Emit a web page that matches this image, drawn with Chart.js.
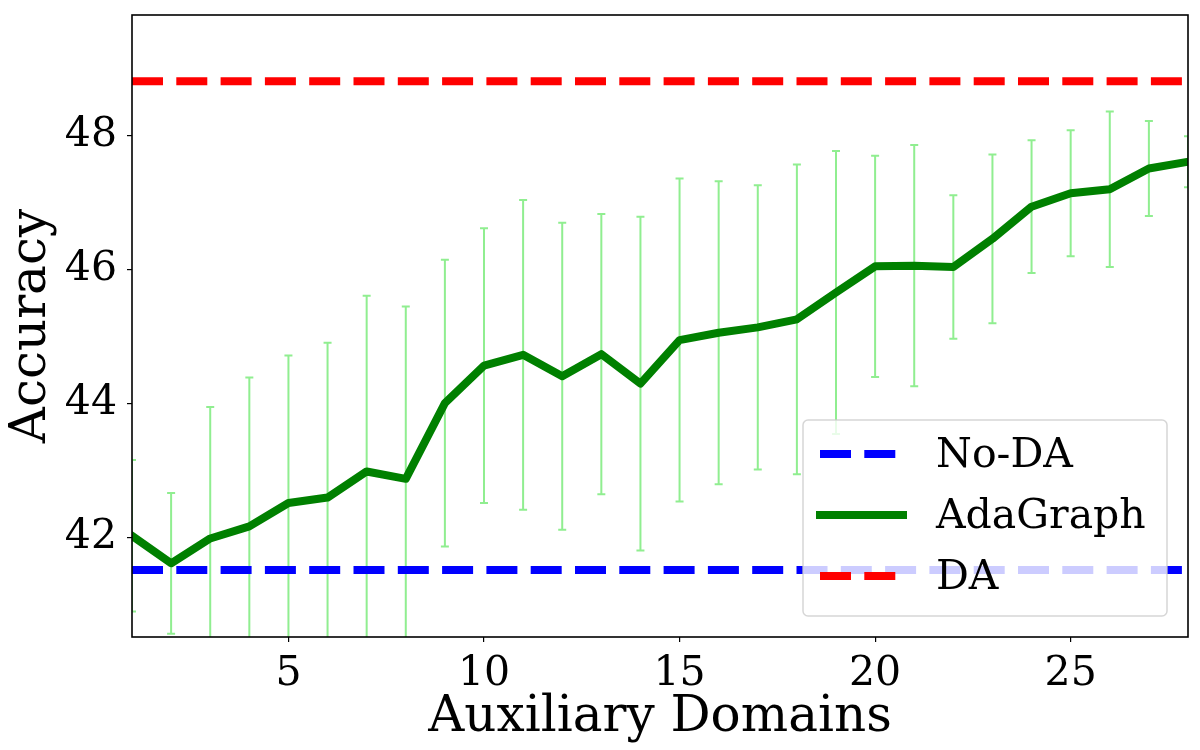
<!DOCTYPE html>
<html>
<head>
<meta charset="utf-8">
<script src="https://cdn.jsdelivr.net/npm/chart.js@4.4.1/dist/chart.umd.min.js"></script>
<style>
  html, body { margin: 0; padding: 0; background: #fff; }
  #wrap { width: 1200px; height: 750px; }
</style>
</head>
<body>
<div id="wrap"><canvas id="chart"></canvas></div>
<script>
// data
const domains = [1, 2, 3, 4, 5, 6, 7, 8, 9, 10, 11, 12, 13, 14, 15, 16, 17, 18, 19, 20, 21, 22, 23, 24, 25, 26, 27, 28];
const adaGraph = [42.03, 41.62, 41.99, 42.17, 42.52, 42.60, 42.99, 42.88, 44.01, 44.57, 44.73, 44.41, 44.74, 44.30,
                  44.95, 45.06, 45.14, 45.26, 45.66, 46.05, 46.06, 46.04, 46.46, 46.94, 47.14, 47.20, 47.51, 47.61];
const adaGraphStd = [1.13, 1.05, 1.96, 2.22, 2.20, 2.31, 2.62, 2.57, 2.14, 2.05, 2.31, 2.29, 2.09, 2.49,
                     2.41, 2.26, 2.12, 2.31, 2.11, 1.65, 1.80, 1.07, 1.26, 0.99, 0.94, 1.16, 0.71, 0.38];
const noDA = 41.52;
const DA = 48.81;
const xTicks = [5, 10, 15, 20, 25];
const yTicks = [42, 44, 46, 48];

const FONT = "'DejaVu Serif', serif";
const DASH = [31, 13.3];

const first = domains[0], last = domains[domains.length - 1];

// error bars under the lines
const errorBars = {
    id: 'errorBars',
    beforeDatasetsDraw(chart) {
        const {ctx, chartArea, scales: {x, y}} = chart;
        ctx.save();
        ctx.beginPath();
        ctx.rect(chartArea.left, chartArea.top, chartArea.right - chartArea.left, chartArea.bottom - chartArea.top);
        ctx.clip();
        ctx.strokeStyle = '#90ee90';
        ctx.lineWidth = 2;
        for (let i = 0; i < domains.length; i++) {
            const px = x.getPixelForValue(domains[i]);
            const top = y.getPixelForValue(adaGraph[i] + adaGraphStd[i]);
            const bot = y.getPixelForValue(adaGraph[i] - adaGraphStd[i]);
            ctx.beginPath();
            ctx.moveTo(px, top); ctx.lineTo(px, bot);
            ctx.moveTo(px - 4, top); ctx.lineTo(px + 4, top);
            ctx.moveTo(px - 4, bot); ctx.lineTo(px + 4, bot);
            ctx.stroke();
        }
        ctx.restore();
    }
};

// axes frame + legend box in the lower right
const frameAndLegend = {
    id: 'frameAndLegend',
    afterDraw(chart) {
        const {ctx, chartArea: a} = chart;
        ctx.save();
        ctx.strokeStyle = '#000';
        ctx.lineWidth = 1.6;
        ctx.strokeRect(a.left, a.top, a.right - a.left, a.bottom - a.top);

        const w = 364, h = 196;
        const bx = a.right - 21 - w, by = a.bottom - 21 - h;
        ctx.beginPath();
        ctx.roundRect(bx, by, w, h, 5);
        ctx.fillStyle = 'rgba(255,255,255,0.8)';
        ctx.fill();
        ctx.strokeStyle = 'rgba(204,204,204,0.8)';
        ctx.lineWidth = 1.5;
        ctx.stroke();

        const items = [
            {label: 'No-DA', color: '#0000ff', dash: DASH},
            {label: 'AdaGraph', color: '#008000', dash: []},
            {label: 'DA', color: '#ff0000', dash: DASH}
        ];
        const x0 = bx + 17, x1 = bx + 100;
        ctx.font = '41px ' + FONT;
        ctx.textBaseline = 'middle';
        ctx.textAlign = 'left';
        items.forEach((it, i) => {
            const yy = by + 34 + i * 61;
            ctx.beginPath();
            ctx.setLineDash(it.dash);
            ctx.lineCap = it.dash.length ? 'butt' : 'square';
            ctx.strokeStyle = it.color;
            ctx.lineWidth = 8;
            ctx.moveTo(x0, yy); ctx.lineTo(x1, yy);
            ctx.stroke();
            ctx.setLineDash([]);
            ctx.fillStyle = '#000';
            ctx.fillText(it.label, bx + 133, yy + 2);
        });
        ctx.restore();
    }
};

new Chart(document.getElementById('chart').getContext('2d'), {
    type: 'line',
    data: {
        datasets: [
            {
                label: 'DA',
                data: [{x: first, y: DA}, {x: last, y: DA}],
                borderColor: '#ff0000',
                borderWidth: 8,
                borderDash: DASH,
                borderCapStyle: 'butt',
                pointRadius: 0,
                order: 0
            },
            {
                label: 'AdaGraph',
                data: domains.map((d, i) => ({x: d, y: adaGraph[i]})),
                borderColor: '#008000',
                borderWidth: 8,
                borderJoinStyle: 'round',
                borderCapStyle: 'square',
                pointRadius: 0,
                tension: 0,
                order: 1
            },
            {
                label: 'No-DA',
                data: [{x: first, y: noDA}, {x: last, y: noDA}],
                borderColor: '#0000ff',
                borderWidth: 8,
                borderDash: DASH,
                borderCapStyle: 'butt',
                pointRadius: 0,
                order: 2
            }
        ]
    },
    options: {
        responsive: true,
        maintainAspectRatio: false,
        animation: false,
        devicePixelRatio: 1,
        layout: {padding: {top: 15, right: 12, left: 0, bottom: 0}},
        plugins: {
            legend: {display: false},
            tooltip: {enabled: false}
        },
        scales: {
            x: {
                type: 'linear',
                min: first,
                max: last,
                afterBuildTicks: (s) => { s.ticks = xTicks.map(v => ({value: v})); },
                afterFit: (s) => { s.height = 113; s.paddingLeft = 0; s.paddingRight = 0; },
                ticks: {
                    font: {family: FONT, size: 41},
                    color: '#000',
                    padding: 8,
                    maxRotation: 0
                },
                grid: {
                    drawOnChartArea: false,
                    drawTicks: true,
                    tickLength: 5,
                    color: '#000',
                    lineWidth: 1.2
                },
                border: {display: false},
                title: {
                    display: true,
                    text: 'Auxiliary Domains',
                    font: {family: FONT, size: 50},
                    color: '#000',
                    padding: {top: 0, bottom: 2}
                }
            },
            y: {
                min: 40.52,
                max: 49.8,
                afterBuildTicks: (s) => { s.ticks = yTicks.map(v => ({value: v})); },
                afterFit: (s) => { s.width = 132; s.paddingTop = 0; s.paddingBottom = 0; },
                ticks: {
                    font: {family: FONT, size: 41},
                    color: '#000',
                    padding: 10
                },
                grid: {
                    drawOnChartArea: false,
                    drawTicks: true,
                    tickLength: 5,
                    color: '#000',
                    lineWidth: 1.2
                },
                border: {display: false},
                title: {
                    display: true,
                    text: 'Accuracy',
                    font: {family: FONT, size: 50},
                    color: '#000',
                    padding: {top: 2, bottom: 0}
                }
            }
        }
    },
    plugins: [errorBars, frameAndLegend]
});
</script>
</body>
</html>
